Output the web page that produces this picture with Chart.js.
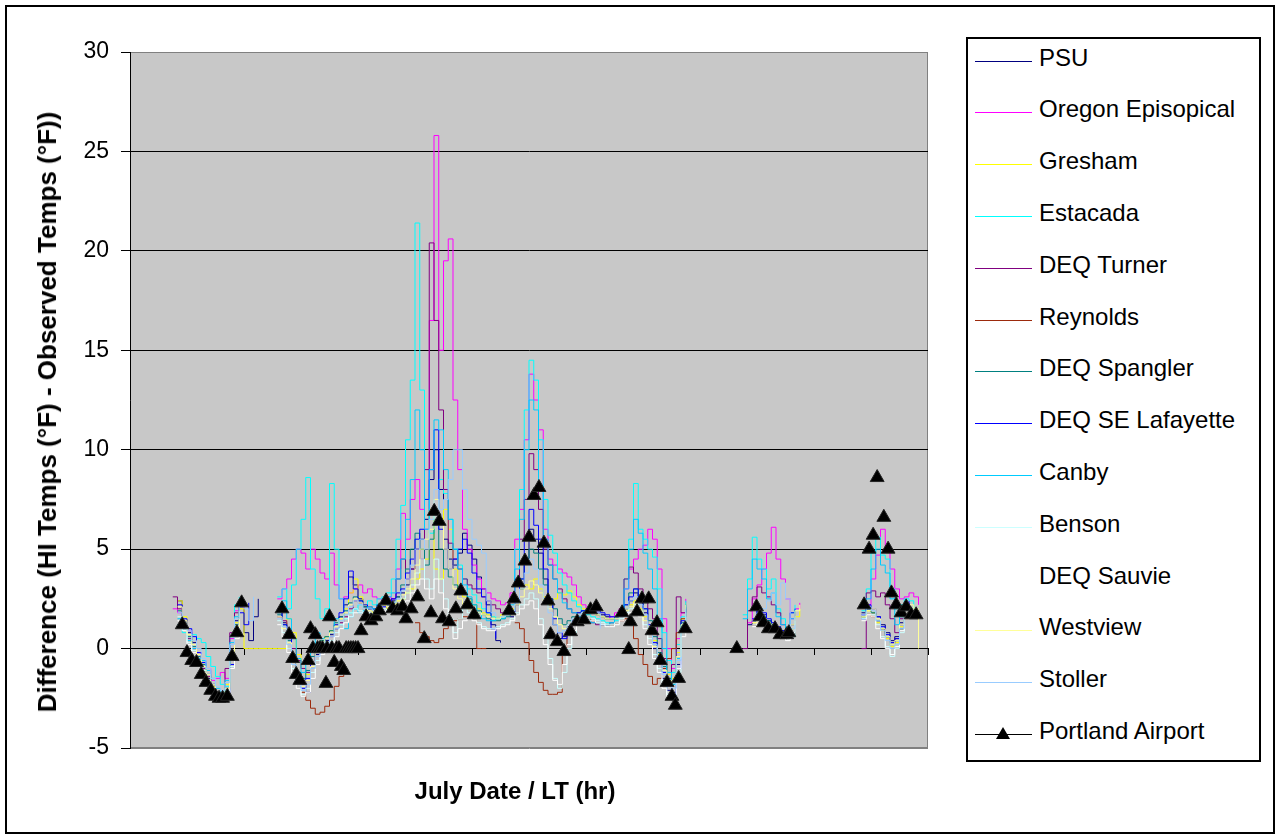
<!DOCTYPE html>
<html>
<head>
<meta charset="utf-8">
<script src="https://cdn.jsdelivr.net/npm/chart.js@4.4.1/dist/chart.umd.min.js"></script>
<style>
  html, body { margin: 0; padding: 0; background: #fff; }
  body { width: 1277px; height: 837px; position: relative; overflow: hidden; font-family: "Liberation Sans", Arial, sans-serif; color: #000; }
  #frame { position: absolute; left: 5px; top: 5px; width: 1266px; height: 825px; border: 2px solid #000; }
  #chart { position: absolute; left: 0; top: 0; }
  .ytitle { position: absolute; left: 47px; top: 412px; transform: translate(-50%, -50%) rotate(-90deg); font-weight: bold; font-size: 26px; line-height: 1; white-space: nowrap; }
  .xtitle { position: absolute; left: 515px; top: 791px; transform: translate(-50%, -50%); font-weight: bold; font-size: 24px; line-height: 1; white-space: nowrap; }
  #legend { position: absolute; left: 966px; top: 37px; width: 291px; height: 721px; border: 2px solid #000; background: #fff; }
  .lg-text { position: absolute; left: 1039px; font-size: 24px; line-height: 24px; white-space: nowrap; }
  .lg-line { position: absolute; left: 975px; width: 57px; height: 1px; }
</style>
</head>
<body>
<div id="frame"></div>
<canvas id="chart" width="1277" height="837"></canvas>
<div class="ytitle">Difference (HI Temps (°F) - Observed Temps (°F))</div>
<div class="xtitle">July Date / LT (hr)</div>
<div id="legend"></div>
<script>
// hour of each line sample (2 h steps), gaps are null in the series
const lineHours = [
  18, 20, 22, 24, 26, 28, 30, 32, 34, 36, 38, 40, 42, 44, 46, 48, 50, 52, 54,
  56, 58, 60,
  62, 64, 66, 68, 70, 72, 74, 76, 78, 80, 82, 84, 86, 88, 90, 92, 94, 96, 98, 100,
  102, 104, 106, 108, 110, 112, 114, 116, 118, 120, 122, 124, 126, 128, 130, 132, 134, 136, 138, 140,
  142, 144, 146, 148, 150, 152, 154, 156, 158, 160, 162, 164, 166, 168, 170, 172, 174, 176, 178, 180,
  182, 184, 186, 188, 190, 192, 194, 196, 198, 200, 202, 204, 206, 208, 210, 212, 214, 216, 218, 220,
  222, 224, 226, 228, 230, 232, 234, 236,
  238, 240, 242, 244, 246, 248, 250, 252, 254,
  256, 258, 260, 262, 264, 266, 268, 270, 272, 274, 276, 278, 280, 282, 284,
  286, 288, 290, 292, 294, 296, 298, 300, 302, 304, 306,
  308, 310, 312, 314, 316, 318, 320, 322, 324, 326, 328, 330, 332, 334
];

const psu = [
  null, 2.4, 1.4, 0.8, 0.3, -0.4, -1.0, -1.5, -1.9, -2.3, -2.5, -2.0, -0.2, 1.4, 2.1, 0.8, 0.4, 1.6, 2.5,
  null, null, null,
  1.9, 1.3, 0.6, -0.3, -1.2, -1.8, -2.2, -1.0, -0.3, 0.0,
  0.4, 0.7, 1.0, 1.6, 2.2, 3.6, 3.2, 2.5, 2.1, 2.0,
  1.9, 2.1, 2.2, 2.0, 2.4, 2.6, 2.8, 3.2, 4.0, 5.0,
  5.5, 6.5, 8.5, 10.0, 8.0, 5.5, 4.5, 4.2, 4.8, 5.8,
  5.2, 4.5, 3.6, 3.0, 2.2, 1.2, 0.4, 0.3, null, 1.6,
  2.2, 3.0, 4.5, 6.0, 5.5, 4.8, 3.5, 2.2, 1.2, 0.5,
  0.6, 1.1, 1.4, 1.7, 1.8, 1.9, 1.9, 1.8, 1.7, 1.6,
  1.5, 1.6, 1.7, 2.0, 2.4, 2.8, 2.3, 1.8, 1.0, 0.0,
  -0.8, -1.5, -2.1, -2.2, -0.8, 1.2, 2.0, null,
  null, null, null, null, null, null, null, null, null,
  null, null, 1.2, 1.4, 1.9, 1.7, 1.4, 1.2, 1.0, 0.9, 0.8, 1.2, 1.8, null, null,
  null, null, null, null, null, null, null, null, null, null, null,
  1.8, 2.0, 1.8, 1.6, 1.2, 0.8, 0.4, 0.6, 1.3, 1.8, 2.2, null, null, null
];

const oregonEpiscopal = [
  2.0, 1.8, 1.1, 0.9, 0.4, -0.2, -0.6, -1.0, -1.6, -1.5, -1.2, -1.5, 0.5, 1.9, 2.3, 2.0, null, null, null,
  null, null, null,
  2.5, 3.0, 3.5, 4.5, 5.0, 4.8, 4.0, 5.0, 4.5, 3.8,
  3.5, 4.8, 3.2, 2.5, 2.6, 2.8, 3.0, 3.2, 2.8, 3.0,
  2.6, 2.5, 2.4, 2.6, 2.5, 4.0, 6.8, 5.5, 7.5, 8.5,
  7.0, 6.0, 16.5, 25.8, 15.0, 19.5, 20.6, 12.5, 9.0, 6.0,
  5.0, 4.2, 3.5, 3.0, 2.8, 2.5, 2.4, 2.2, 2.3, 2.8,
  5.5, 7.0, 10.5, 13.8, 12.5, 11.0, 6.0, 4.5, 4.2, 4.0,
  3.8, 3.6, 3.2, 2.6, 2.2, 2.0, 1.8, 1.7, 1.6, 1.5,
  1.6, 1.8, 2.0, 3.0, 4.0, 4.5, 5.0, 5.2, 6.0, 5.5,
  4.0, 1.5, 0.0, -1.0, 0.5, 1.8, 2.5, null,
  null, null, null, null, null, null, null, null, null,
  null, null, 1.3, 2.5, 3.2, 4.0, 4.8, 6.1, 4.5, 3.5, 2.5, 1.5, 2.0, 2.3, null,
  null, null, null, null, null, null, null, null, null, null, null,
  1.5, 2.2, 3.5, 4.7, 6.0, 5.0, 4.0, 3.0, 2.5, 2.6, 2.8, 2.6, 2.2, null
];

const gresham = [
  null, 2.4, 1.6, 0.7, 0.4, -0.3, -0.9, -1.4, -1.9, -2.2, -2.4, -1.8, -0.3, 1.3, 2.0, 0, 0, 0, 0,
  0, 0, 0,
  0, 0, 1.5, 0.8, -0.3, -1.0, -1.3, -0.8, 0.0, 0.4,
  0.6, 0.9, 1.2, 1.5, 2.0, 2.8, 3.5, 2.6, 2.2, 2.0,
  1.8, 2.0, 2.2, 2.0, 2.2, 2.4, 2.5, 2.8, 3.0, 3.5,
  4.0, 4.5, 7.0, 4.0, 3.5, 7.0, 6.0, 4.0, 3.0, 2.6,
  2.4, 2.2, 2.0, 1.8, 1.7, 1.6, 1.6, 1.7, 1.8, 2.0,
  2.5, 3.0, 3.2, 3.0, 3.5, 3.0, 2.6, 2.2, 2.5, 2.8,
  2.7, 2.9, 2.6, 2.2, 2.0, 1.9, 1.8, 1.7, 1.6, 1.5,
  1.5, 1.6, 1.7, 2.0, 2.2, 2.4, 2.0, 1.6, 1.0, 0.4,
  -0.3, -0.8, -1.3, -1.5, -0.2, 1.5, 2.3, null,
  null, null, null, null, null, null, null, null, null,
  null, null, null, 1.3, 1.7, 1.5, 1.3, 1.1, 0.9, 0.7, 0.6, 1.0, 1.6, 2.0, null,
  null, null, null, null, null, null, null, null, null, null, null,
  1.6, 1.9, 1.8, 1.3, 0.9, 0.5, 0.1, 0.3, 1.1, 1.7, 2.1, null, null, null
];

const estacada = [
  null, 1.2, 0.8, 0.5, 0.7, 0.5, 0.3, -0.4, -0.9, -1.4, -1.8, -1.9, 0.6, 2.2, 2.6, null, null, null, null,
  null, null, null,
  2.6, 3.0, 2.0, 3.2, 5.0, 6.5, 8.6, 4.0, 2.5, 1.5,
  2.0, 8.3, 5.0, 2.5, 1.5, 1.8, 2.0, 2.2, 2.0, 2.4,
  2.2, 2.5, 2.6, 2.8, 3.5, 5.5, 7.2, 10.5, 13.5, 21.4,
  13.0, 7.5, 5.8, 7.0, 8.5, 7.8, 6.5, 5.0, 4.2, 3.5,
  3.0, 2.7, 2.3, 2.0, 1.8, 1.6, 1.5, 1.6, 1.8, 2.5,
  5.0, 8.0, 12.0, 14.5, 13.5, 10.5, 7.5, 5.7, 4.8, 3.8,
  3.2, 2.8, 2.4, 2.1, 1.9, 1.7, 1.6, 1.5, 1.4, 1.3,
  1.3, 1.4, 1.8, 3.5, 5.5, 8.3, 6.0, 5.5, 5.0, 4.6,
  3.0, 0.8, -0.6, -1.2, 0.2, 1.6, 2.4, null,
  null, null, null, null, null, null, null, null, null,
  null, 1.7, 3.5, 5.6, 4.5, 4.0, 3.0, 3.5, 2.0, 1.5, 1.0, 1.8, 2.2, null, null,
  null, null, null, null, null, null, null, null, null, null, null,
  1.9, 3.0, 4.8, 5.6, 4.7, 4.5, 3.0, 2.0, 2.2, 2.5, 2.4, 2.0, null, null
];

const deqTurner = [
  2.6, 2.0, 1.2, 0.5, 0.0, -0.5, -1.0, -1.4, -2.0, -2.3, -2.6, -1.0, 0.8, 1.8, 2.2, null, null, null, null,
  null, null, null,
  1.6, 1.4, 0.8, 0.0, -0.6, -1.0, -1.2, -0.8, -0.4, 0.0,
  0.2, 0.6, 1.0, 1.3, 1.6, 2.0, 2.4, 2.3, 2.0, 2.1,
  2.0, 2.2, 2.4, 2.3, 2.5, 3.5, 4.5, 3.5, 4.0, 5.0,
  4.5, 9.0, 20.4, 16.5, 12.0, 8.0, 5.3, 4.5, 4.0, 3.5,
  3.2, 3.0, 2.8, 2.6, 2.4, 2.2, 2.0, 1.8, 1.8, 2.4,
  3.5, 5.5, 7.5, 9.8, 9.0, 7.0, 5.0, 4.2, 3.5, 3.0,
  2.5, 2.0, 1.8, 1.6, 1.5, 1.4, 1.3, 1.2, 1.2, 1.2,
  1.3, 1.5, 2.0, 3.5, 4.1, 3.8, 3.0, 2.5, 2.0, 1.5,
  0.5, -0.5, -1.5, -0.8, 2.6, 1.8, 2.0, null,
  null, null, null, null, null, null, null, null, null,
  null, 0.0, 1.9, 2.6, 3.1, 2.8, 2.6, 2.2, 1.8, 1.2, 0.8, 0.8, 1.2, null, null,
  null, null, null, null, null, null, null, null, null, null, null,
  0.0, 2.8, 2.9, 2.6, 2.8, 2.2, 1.5, 0.8, 1.5, 2.0, 2.3, null, null, null
];

const reynolds = [
  null, null, null, null, null, null, null, null, null, null, null, null, null, null, null, null, null, null, null,
  null, null, null,
  null, null, null, null, null, -2.2, -2.6, -3.0, -3.3, -3.2,
  -2.9, -2.6, -1.9, -1.4, -1.2, null, null, null, null, null,
  null, null, null, null, null, null, null, null, null, 1.3,
  0.8, 0.6, 0.4, 0.3, 0.5, 1.0, 1.2, 1.4, 1.5, 1.6,
  1.6, 1.7, 0.0, 0.0, 0.0, null, null, null, null, null,
  1.3, 1.0, 0.3, -0.6, -1.2, -1.7, -2.1, -2.3, -2.3, -2.2,
  -0.3, 0.8, 1.2, 1.4, 1.5, 1.5, 1.4, 1.3, 1.2, 1.2,
  1.2, 1.3, 1.4, 1.5, 1.2, 0.5, -0.3, -0.8, -1.4, -1.8,
  -1.5, -1.0, -0.5, 0.0, 0.8, 1.5, 2.0, null,
  null, null, null, null, null, null, null, null, null,
  null, null, null, 1.2, 1.6, 1.4, 1.2, 1.0, 0.9, 0.7, 0.6, 0.7, 1.5, null, null,
  null, null, null, null, null, null, null, null, null, null, null,
  null, 1.8, 1.6, 1.4, 1.0, 0.6, 0.3, 0.5, 1.0, 1.5, 1.8, null, null, null
];

const deqSpangler = [
  null, 1.9, 1.3, 0.6, 0.1, -0.4, -0.8, -1.3, -1.8, -2.2, -2.4, -2.1, -0.5, 1.2, 2.0, null, null, null, null,
  null, null, null,
  1.7, 1.2, 0.4, -0.5, -1.2, -1.5, -1.1, -0.4, 0.1, 0.4,
  0.6, 0.9, 1.3, 1.6, 1.9, 2.3, 2.6, 2.4, 2.1, 2.0,
  2.0, 2.1, 2.3, 2.2, 2.3, 2.6, 3.2, 4.0, 5.0, 5.8,
  5.0, 4.2, 5.5, 6.5, 5.0, 4.0, 3.6, 3.2, 3.0, 2.8,
  2.5, 2.2, 1.9, 1.7, 1.5, 1.4, 1.4, 1.5, 1.6, 1.9,
  2.5, 3.5, 4.5, 5.0, 4.8, 4.0, 3.2, 2.5, 2.0, 1.5,
  1.2, 1.4, 1.6, 1.8, 1.9, 1.9, 1.8, 1.7, 1.6, 1.5,
  1.5, 1.6, 1.8, 2.2, 2.8, 3.0, 2.6, 2.0, 1.4, 0.6,
  -0.2, -0.9, -1.5, -1.8, -0.4, 1.3, 2.1, null,
  null, null, null, null, null, null, null, null, null,
  null, null, null, 1.4, 1.8, 1.6, 1.4, 1.2, 1.0, 0.8, 0.7, 0.6, 1.4, null, null,
  null, null, null, null, null, null, null, null, null, null, null,
  1.6, 2.0, 1.8, 1.4, 1.0, 0.6, 0.2, 0.4, 1.0, 1.6, 2.0, null, null, null
];

const deqLafayette = [
  null, 2.2, 1.5, 1.0, 0.6, -0.2, -0.7, -1.3, -1.8, -2.2, -2.5, -2.3, -0.8, 0.9, 1.8, 1.2, 2.3, null, null,
  null, null, null,
  2.0, 1.2, 0.5, -0.5, -1.5, -2.0, -1.5, -0.8, -0.2, 0.2,
  0.5, 0.8, 1.2, 1.8, 2.5, 3.9, 3.0, 2.4, 2.2, 2.0,
  2.0, 2.2, 2.1, 2.3, 2.5, 2.8, 3.0, 3.8, 4.5, 5.5,
  6.0, 7.5, 9.0, 11.0, 6.0, 5.0, 4.0, 4.5, 5.0, 5.5,
  4.8, 3.8, 3.0, 2.6, 1.8, 1.0, 0.5, null, null, 1.8,
  2.5, 3.5, 5.5, 7.0, 6.2, 5.5, 4.0, 2.5, 1.5, 0.8,
  0.5, 1.0, 1.5, 1.8, 1.9, 2.0, 2.0, 1.9, 1.8, 1.7,
  1.6, 1.6, 1.8, 2.2, 2.6, 3.0, 2.5, 2.0, 1.2, 0.3,
  -0.5, -1.2, -1.9, -2.4, -1.0, 1.4, 2.2, null,
  null, null, null, null, null, null, null, null, null,
  null, null, null, 1.5, 2.0, 1.8, 1.5, 1.3, 1.1, 0.9, 0.8, 1.8, 2.0, null, null,
  null, null, null, null, null, null, null, null, null, null, null,
  1.7, 2.2, 2.0, 1.6, 1.1, 0.7, 0.3, 0.5, 1.2, 1.8, 2.4, null, null, null
];

const canby = [
  null, 1.5, 1.0, 0.4, 0.0, -0.5, -0.6, -1.1, -1.5, -2.0, -2.2, -1.6, 0.3, 1.6, 2.4, null, null, null, null,
  null, null, null,
  1.8, 2.4, 1.5, 0.5, -0.5, -1.2, -0.8, 0.2, 0.8, 0.5,
  0.3, 0.8, 1.5, 1.2, 1.0, 1.6, 2.0, 1.8, 1.9, 2.1,
  2.0, 2.2, 2.4, 2.6, 2.8, 3.5, 4.5, 6.5, 8.5, 12.0,
  10.0, 6.0, 9.0, 11.5, 11.0, 9.0, 6.5, 5.0, 4.0, 3.2,
  2.6, 2.2, 1.8, 1.5, 1.4, 1.4, 1.5, 1.5, 1.7, 2.2,
  4.0, 6.5, 10.0, 12.5, 12.0, 8.0, 5.5, 4.2, 3.5, 2.8,
  2.3, 2.0, 1.8, 1.6, 1.5, 1.4, 1.3, 1.3, 1.2, 1.2,
  1.3, 1.5, 1.8, 3.0, 5.0, 6.5, 5.8, 4.8, 4.0, 3.0,
  1.5, 0.0, -1.2, -1.8, -0.5, 1.2, 2.2, null,
  null, null, null, null, null, null, null, null, null,
  null, 1.5, 3.0, 4.5, 4.0, 3.5, 2.5, 2.8, 1.6, 1.2, 0.8, 1.5, 2.0, null, null,
  null, null, null, null, null, null, null, null, null, null, null,
  1.5, 2.5, 4.0, 5.0, 4.2, 3.8, 2.5, 1.2, 1.6, 2.0, 2.2, null, null, null
];

const benson = [
  null, 1.6, 1.1, 0.3, -0.1, -0.6, -1.1, -1.6, -2.0, -2.3, -2.4, -2.2, -0.9, 0.6, 1.5, null, null, null, null,
  null, null, null,
  1.4, 0.8, 0.0, -1.0, -1.8, -2.3, -2.0, -1.2, -0.6, -0.2,
  0.2, 0.4, 0.8, 1.2, 1.5, 1.8, 2.0, 1.9, 1.8, 1.8,
  1.7, 1.9, 2.0, 1.9, 2.0, 2.2, 2.5, 2.8, 3.2, 3.8,
  4.5, 3.5, 3.0, 4.5, 3.5, 2.5, 1.5, 0.8, 1.5, 2.0,
  1.8, 1.6, 1.3, 1.1, 1.0, 1.0, 1.1, 1.2, 1.3, 1.5,
  1.8, 2.2, 2.5, 2.8, 2.5, 1.5, 0.5, -0.5, -1.5, -2.0,
  -1.2, 0.0, 0.8, 1.2, 1.4, 1.5, 1.5, 1.4, 1.3, 1.2,
  1.2, 1.3, 1.5, 1.8, 2.0, 2.2, 1.8, 1.2, 0.5, -0.3,
  -1.0, -1.8, -2.3, -2.5, -1.2, 0.8, 1.8, null,
  null, null, null, null, null, null, null, null, null,
  null, null, null, 1.2, 1.5, 1.4, 1.2, 1.0, 0.8, 0.6, 0.5, 0.8, 1.5, null, null,
  null, null, null, null, null, null, null, null, null, null, null,
  1.5, 1.8, 1.7, 1.2, 0.6, 0.1, -0.4, 0.0, 0.8, 1.6, 2.1, null, null, null
];

const deqSauvie = [
  null, 1.4, 0.9, 0.2, -0.2, -0.7, -1.2, -1.7, -2.1, -2.4, -2.5, -2.4, -1.0, 0.5, 1.4, null, null, null, null,
  null, null, null,
  1.2, 0.6, -0.2, -1.2, -2.0, -2.4, -2.2, -1.5, -0.8, -0.3,
  0.0, 0.3, 0.6, 1.0, 1.3, 1.6, 1.8, 1.8, 1.7, 1.7,
  1.6, 1.8, 1.9, 1.8, 1.9, 2.0, 2.2, 2.4, 2.8, 3.2,
  3.5, 3.0, 2.5, 3.5, 2.8, 2.0, 1.2, 0.5, 1.0, 1.4,
  1.5, 1.4, 1.2, 1.0, 0.9, 0.9, 1.0, 1.1, 1.2, 1.4,
  1.7, 2.0, 2.2, 2.4, 2.0, 1.2, 0.2, -0.8, -1.6, -1.8,
  -0.8, 0.2, 0.9, 1.2, 1.3, 1.4, 1.4, 1.3, 1.2, 1.1,
  1.1, 1.2, 1.4, 1.6, 1.8, 2.0, 1.6, 1.0, 0.2, -0.5,
  -1.2, -2.0, -2.5, -2.3, -1.0, 0.6, 1.6, null,
  null, null, null, null, null, null, null, null, null,
  null, null, null, 1.1, 1.4, 1.3, 1.1, 0.9, 0.7, 0.5, 0.4, 0.7, 1.4, null, null,
  null, null, null, null, null, null, null, null, null, null, null,
  1.4, 1.7, 1.6, 1.0, 0.5, 0.0, -0.3, 0.1, 0.9, 1.5, 1.9, null, null, null
];

const westview = [
  null, 2.1, 1.4, 0.7, 0.2, -0.3, -0.9, -1.3, -1.8, -2.2, -2.4, -2.0, -0.4, 1.1, 1.9, null, null, null, null,
  null, null, null,
  1.6, 1.0, 0.3, -0.6, -1.4, -1.9, -1.6, -0.9, -0.2, 0.2,
  0.5, 0.8, 1.1, 1.5, 1.8, 2.2, 2.5, 2.3, 2.0, 1.9,
  1.9, 2.0, 2.2, 2.1, 2.2, 2.4, 2.7, 3.0, 3.5, 4.2,
  5.0, 5.5, 6.0, 7.5, 6.5, 5.0, 4.0, 3.0, 2.5, 2.2,
  2.0, 1.9, 1.8, 1.7, 1.6, 1.5, 1.5, 1.6, 1.7, 1.9,
  2.2, 2.6, 3.0, 3.4, 3.2, 2.8, 2.4, 2.0, 1.6, 1.2,
  1.0, 1.2, 1.5, 1.7, 1.8, 1.8, 1.8, 1.7, 1.6, 1.5,
  1.5, 1.5, 1.7, 1.9, 2.1, 2.3, 1.9, 1.4, 0.8, 0.1,
  -0.6, -1.1, -1.6, -1.7, -0.4, 1.2, 2.2, null,
  null, null, null, null, null, null, null, null, null,
  null, null, null, 1.3, 1.6, 1.5, 1.2, 1.0, 0.8, 0.7, 0.6, 1.2, 1.9, 2.2, null,
  null, null, null, null, null, null, null, null, null, null, null,
  1.6, 1.9, 2.0, 1.5, 1.0, 0.6, 0.2, 0.4, 1.2, 1.8, 2.2, 2.0, 0.0, null
];

const stoller = [
  null, 1.8, 1.2, 0.9, 0.4, 0.0, -0.5, -1.0, -1.5, -1.9, -2.1, -1.7, 0.2, 1.5, 2.2, 2.0, 1.4, 2.6, null,
  null, null, null,
  1.5, 1.1, 0.2, -0.8, -1.6, -2.1, -1.8, -1.0, -0.4, 0.0,
  0.3, 0.6, 1.0, 1.4, 1.7, 2.1, 2.4, 2.2, 2.0, 2.0,
  1.9, 2.1, 2.3, 2.2, 2.3, 2.5, 2.9, 3.5, 4.2, 5.0,
  5.5, 5.0, 6.5, 8.0, 7.0, 7.5, 8.5, 10.0, 10.0, 8.0,
  6.5, 5.5, 5.2, 4.8, 2.4, 1.8, 1.6, 1.6, 1.7, 1.9,
  2.3, 3.0, 3.8, 4.5, 4.0, 3.2, 2.5, 1.8, 1.2, 0.8,
  0.9, 1.2, 1.5, 1.7, 1.8, 1.9, 1.9, 1.8, 1.0, null,
  null, null, 1.6, 2.0, 2.4, 2.6, 2.2, 1.7, 1.0, 0.2,
  -0.6, -1.3, -1.9, -2.0, -0.6, 1.0, 2.0, null,
  null, null, null, null, null, null, null, null, null,
  null, null, null, 1.4, 1.8, 2.0, 2.4, 2.8, 2.2, 3.3, 2.5, 1.0, 1.6, null, null,
  null, null, null, null, null, null, null, null, null, null, null,
  1.7, 2.1, 1.9, 1.4, 0.9, 0.4, 0.0, 0.2, 1.0, 1.7, 2.0, null, null, null
];

// Portland Airport observations (hour, difference)
const airportHours = [
  22, 24, 26, 28, 30, 32, 34, 36, 37.5, 39, 41, 43, 45, 47,
  64, 67, 68.5, 70, 71.5, 75, 76, 77, 78, 79, 80, 81,
  82.5, 83, 84, 85, 86, 87, 88, 89, 90, 91, 92, 93, 94, 95, 96,
  97.3, 99.4, 101.5, 103.5, 105, 107.8, 110.6, 112.7, 114.8, 116.2,
  118.4, 121.1, 123.9, 126.7, 128.1, 130.2, 131.6, 134.4, 137.2, 139.3,
  142.1, 144.9,
  159.6, 161.7, 163.5, 166.3, 168, 170.1, 172.2, 174.3, 176, 177.1,
  179.9, 182.7, 185.5, 188.3, 191.1, 193.9, 196.3,
  207.2, 210, 210.7, 213.5, 215.6, 218.4, 219.8, 221.9, 223.3, 226.1,
  228.2, 229.6, 231, 233.8,
  255.5,
  263.8, 265.3, 266.7, 268.8, 271.6, 273.7, 276.5, 277.4,
  309.1, 311.2, 312.9, 314.6, 317.4, 319.2, 320.6, 322.6, 324.7, 326.8, 328.9, 331
];
const airportTemps = [
  1.2, -0.2, -0.6, -0.7, -1.3, -1.7, -2.1, -2.4, -2.5, -2.5, -2.4, -0.4, 0.8, 2.3,
  2.0, 0.7, -0.5, -1.3, -1.6, -0.6, 1.0, 0, 0.7, 0, 0, 0,
  -1.75, 0, 1.6, 0, -0.7, 0, 0, -0.9, -1.1, 0, 0, 0, 0, 0, 0,
  0.9, 1.6, 1.4, 1.6, 1.9, 2.4, 2.0, 1.9, 2.1, 1.5,
  2.0, 2.6, 0.5, 1.8, 6.9, 6.4, 1.5, 1.35, 2.0, 2.9,
  2.2, 1.7,
  1.9, 2.5, 3.3, 4.4, 5.6, 7.7, 8.1, 5.3, 2.4, 0.7,
  0.35, -0.15, 0.85, 1.35, 1.45, 1.95, 2.1,
  1.8, -0.05, 1.35, 1.85, 2.5, 2.5, 0.9, 1.3, -0.6, -1.7,
  -2.4, -2.85, -1.5, 1.0,
  0,
  2.1, 1.6, 1.3, 1.0, 1.0, 0.7, 0.7, 0.8,
  2.2, 5.0, 5.7, 8.6, 6.6, 5.0, 2.8, 2.2, 1.8, 2.1, 1.7, 1.7
];

const lineSeries = [
  { name: 'PSU', color: '#000080', values: psu },
  { name: 'Oregon Episopical', color: '#FF00FF', values: oregonEpiscopal },
  { name: 'Gresham', color: '#FFFF00', values: gresham },
  { name: 'Estacada', color: '#00FFFF', values: estacada },
  { name: 'DEQ Turner', color: '#800080', values: deqTurner },
  { name: 'Reynolds', color: '#9C2A0C', values: reynolds },
  { name: 'DEQ Spangler', color: '#008080', values: deqSpangler },
  { name: 'DEQ SE Lafayette', color: '#0000FF', values: deqLafayette },
  { name: 'Canby', color: '#00CCFF', values: canby },
  { name: 'Benson', color: '#CCFFFF', values: benson },
  { name: 'DEQ Sauvie', color: '#FFFFFF', values: deqSauvie },
  { name: 'Westview', color: '#FFFF99', values: westview },
  { name: 'Stoller', color: '#99CCFF', values: stoller }
];

lineSeries.forEach(s => {
  if (s.values.length !== lineHours.length) throw new Error(s.name + ' has ' + s.values.length + ' values');
});
if (airportHours.length !== airportTemps.length) throw new Error('airport length ' + airportHours.length + ' vs ' + airportTemps.length);

Chart.defaults.font.family = '"Liberation Sans", Arial, sans-serif';
Chart.defaults.color = '#000';

const datasets = lineSeries.map((s, i) => ({
  label: s.name,
  data: s.values.map((v, j) => ({ x: lineHours[j], y: v })),
  borderColor: s.color,
  borderWidth: 1,
  pointRadius: 0,
  stepped: true,
  spanGaps: false,
  order: 40 - i
}));

datasets.push({
  label: 'Portland Airport',
  data: airportHours.map((h, j) => ({ x: h, y: airportTemps[j] })),
  showLine: false,
  borderColor: '#000',
  pointStyle: 'triangle',
  pointRadius: 8,
  pointBackgroundColor: '#000',
  pointBorderColor: '#222',
  pointBorderWidth: 1,
  order: 0
});

// grey plot area with a thin grey frame
const plotBackground = {
  id: 'plotBackground',
  beforeDraw(chart) {
    const { ctx, chartArea: a } = chart;
    ctx.save();
    ctx.fillStyle = '#C8C8C8';
    ctx.fillRect(a.left, a.top, a.right - a.left, a.bottom - a.top);
    ctx.strokeStyle = '#808080';
    ctx.lineWidth = 1;
    ctx.strokeRect(a.left + 0.5, a.top + 0.5, a.right - a.left - 1, a.bottom - a.top - 1);
    ctx.restore();
  }
};

new Chart(document.getElementById('chart'), {
  type: 'line',
  data: { datasets },
  plugins: [plotBackground],
  options: {
    responsive: false,
    animation: false,
    devicePixelRatio: 1,
    layout: { padding: { left: 0, top: 52, right: 349, bottom: 89 } },
    plugins: { legend: { display: false }, tooltip: { enabled: false } },
    scales: {
      x: {
        type: 'linear',
        min: 0,
        max: 336,
        position: { y: 0 },
        ticks: { stepSize: 24, display: false },
        grid: { drawOnChartArea: false, tickLength: 6, tickColor: '#000' },
        border: { color: '#000', width: 1 }
      },
      y: {
        min: -5,
        max: 30,
        ticks: { stepSize: 5, padding: 12, font: { size: 23 }, color: '#000' },
        grid: {
          color: ctx => (ctx.tick && (ctx.tick.value === 30 || ctx.tick.value === -5)) ? '#808080' : '#000',
          tickLength: 9,
          tickColor: '#000'
        },
        border: { color: '#000', width: 1 },
        afterFit: s => { s.width = 130; }
      }
    }
  }
});

// legend
const legendItems = lineSeries.map(s => ({ name: s.name, color: s.color })).concat([{ name: 'Portland Airport', color: '#000' }]);
legendItems.forEach((item, k) => {
  const cy = 57.5 + 51.8 * k;
  const text = document.createElement('div');
  text.className = 'lg-text';
  text.style.top = (cy - 12) + 'px';
  text.textContent = item.name;
  document.body.appendChild(text);
  const line = document.createElement('div');
  line.className = 'lg-line';
  line.style.top = Math.round(cy + 3) + 'px';
  line.style.background = item.color;
  document.body.appendChild(line);
  if (item.name === 'Portland Airport') {
    const tri = document.createElement('div');
    tri.style.cssText = 'position:absolute;left:996px;top:' + Math.round(cy - 4) + 'px;width:0;height:0;' +
      'border-left:7px solid transparent;border-right:7px solid transparent;border-bottom:12px solid #000;';
    document.body.appendChild(tri);
  }
});
</script>
</body>
</html>
